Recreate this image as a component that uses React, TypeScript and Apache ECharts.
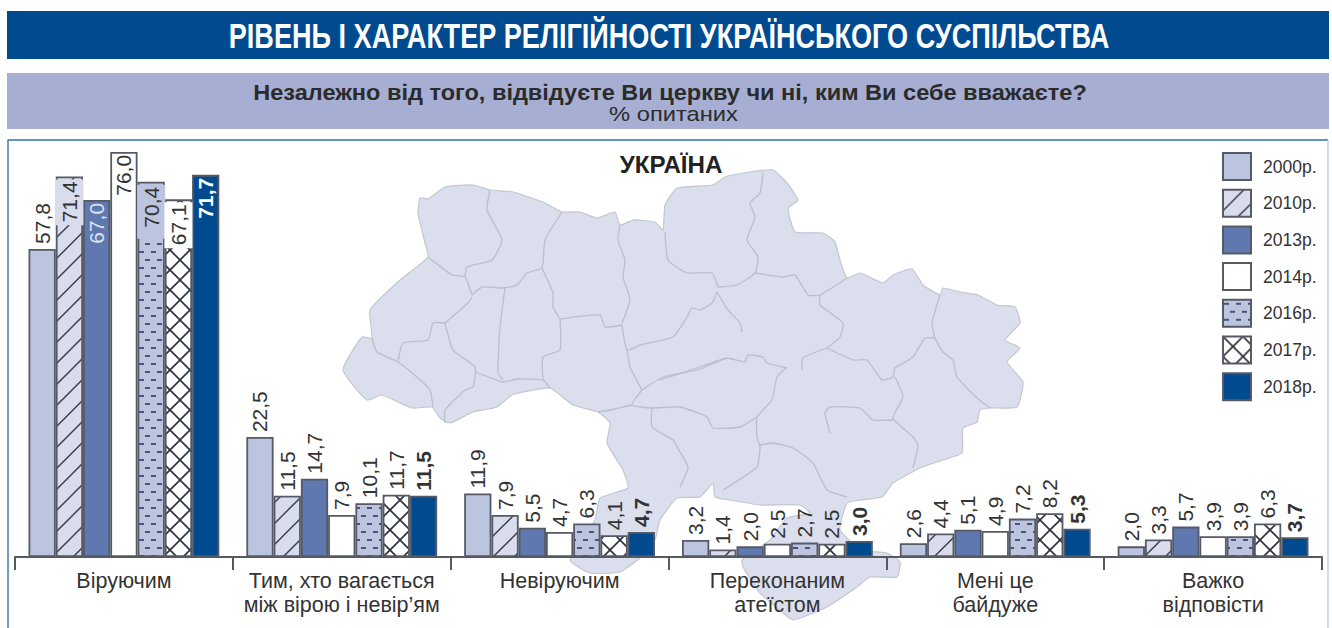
import React, { useEffect, useRef } from "react";
import * as echarts from "echarts";

const categories = ["Віруючим", "Тим, хто вагається\nміж вірою і невір’ям", "Невіруючим", "Переконаним\nатеїстом", "Мені це\nбайдуже", "Важко\nвідповісти"];
const years = ["2000р.", "2010р.", "2013р.", "2014р.", "2016р.", "2017р.", "2018р."];
const v2000 = [57.8, 22.5, 11.9, 3.2, 2.6, 2.0];
const v2010 = [71.4, 11.5, 7.9, 1.4, 4.4, 3.3];
const v2013 = [67.0, 14.7, 5.5, 2.0, 5.1, 5.7];
const v2014 = [76.0, 7.9, 4.7, 2.5, 4.9, 3.9];
const v2016 = [70.4, 10.1, 6.3, 2.7, 7.2, 3.9];
const v2017 = [67.1, 11.7, 4.1, 2.5, 8.2, 6.3];
const v2018 = [71.7, 11.5, 4.7, 3.0, 5.3, 3.7];
const allValues = [v2000, v2010, v2013, v2014, v2016, v2017, v2018];

// Decorative background map of Ukraine (not data)
const mapOutline = [[343,370],[362,337],[372,338],[370,310],[400,280],[428,257],[425,243],[418,213],[420,198],[428,199],[445,187],[473,185],[490,190],[513,192],[543,202],[562,212],[580,212],[597,218],[615,212],[620,225],[633,220],[655,222],[663,230],[665,205],[677,188],[713,185],[725,177],[750,172],[773,170],[787,183],[798,200],[788,208],[795,232],[823,233],[835,242],[840,260],[847,278],[860,273],[883,283],[893,275],[912,269],[923,285],[940,295],[943,288],[960,292],[978,295],[997,305],[1015,307],[1020,323],[1005,340],[1020,348],[1007,362],[1023,382],[1017,407],[990,408],[980,410],[977,422],[963,428],[962,453],[943,460],[920,468],[893,483],[882,497],[860,500],[847,503],[840,530],[862,550],[887,553],[900,562],[897,577],[870,577],[857,587],[827,607],[793,620],[780,610],[760,593],[743,567],[742,560],[770,540],[787,518],[810,513],[800,505],[760,505],[730,500],[715,497],[713,483],[700,497],[677,498],[660,520],[655,540],[640,558],[620,572],[590,573],[570,560],[595,520],[600,498],[628,488],[623,470],[607,443],[610,423],[598,412],[573,405],[550,388],[512,395],[497,407],[473,412],[450,423],[440,418],[432,407],[412,408],[382,395],[367,400]];
const mapBorders = [
  [[490,190],[487,210],[502,240],[492,260],[467,267],[465,277]],
  [[428,257],[452,275],[465,277],[472,295]],
  [[472,295],[482,287],[503,288],[517,285],[527,273],[542,268],[545,240],[562,212]],
  [[620,225],[618,240],[625,260],[623,277],[630,300],[622,323]],
  [[542,268],[553,293],[553,307],[560,319]],
  [[560,319],[600,315],[605,327],[622,325]],
  [[622,325],[627,350],[640,345],[673,337],[687,317],[692,308],[700,310],[712,303],[717,292]],
  [[665,232],[668,260],[687,273],[712,273],[718,287]],
  [[763,172],[760,193],[750,203],[755,217],[747,240],[758,257],[755,273],[737,285],[718,287]],
  [[755,273],[783,277],[795,275],[808,295],[820,295],[847,278]],
  [[820,295],[820,305],[843,323],[840,337],[827,348]],
  [[940,295],[932,323],[935,338],[943,352],[953,360],[957,377],[977,398],[990,408]],
  [[935,338],[925,338],[913,357],[895,368],[893,377],[882,380],[867,360],[853,360],[827,348]],
  [[895,377],[903,397],[893,418],[913,437],[918,445],[913,468]],
  [[893,420],[873,420],[860,408],[830,407],[825,413],[830,433]],
  [[827,348],[803,358],[802,370]],
  [[787,367],[777,377],[772,400],[757,417],[757,437],[760,447],[757,467],[723,490]],
  [[717,292],[728,310],[740,323],[742,332]],
  [[660,380],[697,368],[727,358],[745,362],[748,355],[763,357],[767,363],[787,368]],
  [[627,350],[630,367],[642,390]],
  [[642,390],[663,377],[697,370],[727,358]],
  [[642,390],[632,405],[652,408],[680,407],[707,417],[713,428],[740,427],[757,417]],
  [[632,405],[610,410],[598,412]],
  [[652,408],[652,427],[673,440],[677,447],[688,467],[680,487]],
  [[760,445],[773,443],[793,448],[813,463],[827,490],[847,497]],
  [[372,338],[377,352],[398,362],[418,378],[430,390],[433,407]],
  [[398,362],[403,343],[428,340],[433,323],[445,323]],
  [[472,297],[468,303],[445,323]],
  [[445,323],[453,350],[475,367],[473,387],[465,390],[445,410],[445,423]],
  [[505,288],[500,327],[498,373],[503,380]],
  [[475,372],[503,382],[517,379],[543,380],[550,388]],
  [[560,319],[560,350],[543,357],[543,380]],
];

function tile(w: number, h: number, draw: (c: CanvasRenderingContext2D) => void) {
  const cv = document.createElement("canvas");
  cv.width = w;
  cv.height = h;
  draw(cv.getContext("2d")!);
  return { image: cv, repeat: "repeat" as const };
}
function line(c: CanvasRenderingContext2D, x1: number, y1: number, x2: number, y2: number) {
  c.beginPath();
  c.moveTo(x1, y1);
  c.lineTo(x2, y2);
  c.stroke();
}

export default function App() {
  const ref = useRef<HTMLDivElement>(null);
  useEffect(() => {
    const chart = echarts.init(ref.current!, undefined, { renderer: "svg" });
    const hatch = tile(21, 21, (c) => {
      c.fillStyle = "#d8dcec";
      c.fillRect(0, 0, 21, 21);
      c.strokeStyle = "#3a3f4c";
      c.lineWidth = 1.5;
      line(c, -2, 23, 23, -2);
      line(c, -2, 2, 2, -2);
      line(c, 19, 23, 23, 19);
    });
    const dots = tile(12, 16, (c) => {
      c.fillStyle = "#bcc4de";
      c.fillRect(0, 0, 12, 16);
      c.fillStyle = "#46557f";
      c.fillRect(1, 3, 5, 2);
      c.fillRect(7, 11, 5, 2);
    });
    const cross = tile(20, 20, (c) => {
      c.fillStyle = "#ffffff";
      c.fillRect(0, 0, 20, 20);
      c.strokeStyle = "#2f333d";
      c.lineWidth = 1.7;
      line(c, -2, 22, 22, -2);
      line(c, -2, -2, 22, 22);
      line(c, -2, 2, 2, -2);
      line(c, 18, 22, 22, 18);
      line(c, 18, -2, 22, 2);
      line(c, -2, 18, 2, 22);
    });
    const fills: any[] = ["#bcc5e0", hatch, "#5f78b0", "#ffffff", dots, cross, "#004a8f"];
    const labelBg = ["", "#d8dcec", "", "", "#bcc4de", "#ffffff", ""];
    const labelTail = [0, 3, 0, 0, 11, 3, 0];
    const insideColor = ["", "#333333", "#dbe1f0", "#333333", "#333333", "#333333", "#ffffff"];
    const fmt = (p: any) => Number(p.value).toFixed(1).replace(".", ",");

    const series = years.map((name, s) => ({
      name,
      type: "bar",
      barGap: 0,
      barCategoryGap: "12.4%",
      itemStyle: { color: fills[s], borderColor: "#555a66", borderWidth: 1.8 },
      data: allValues[s].map((value, c) => {
        const inside = c === 0 && s > 0;
        return {
          value,
          label: inside
            ? {
                position: "insideTop",
                distance: 3,
                rotate: 90,
                align: "right",
                verticalAlign: "middle",
                color: insideColor[s],
                ...(labelBg[s] ? { backgroundColor: labelBg[s], padding: [3, 2, 4, labelTail[s]] } : {}),
              }
            : {},
        };
      }),
      label: {
        show: true,
        position: "top",
        distance: 5,
        rotate: 90,
        align: "left",
        verticalAlign: "middle",
        formatter: fmt,
        fontFamily: "Liberation Sans",
        fontSize: 21,
        fontWeight: s === 6 ? "bold" : "normal",
        color: "#333333",
      },
    }));

    const smooth = 0.15;
    chart.setOption({
      animation: false,
      grid: { left: 15, width: 1307, top: 130.6, height: 426.4 },
      legend: {
        orient: "vertical",
        left: 1222,
        top: 152,
        padding: 0,
        icon: "rect",
        itemWidth: 28,
        itemHeight: 27,
        itemGap: 7.7,
        selectedMode: false,
        data: years,
        textStyle: { fontFamily: "Liberation Sans", fontSize: 17.5, color: "#333333", padding: [0, 0, 0, 7] },
      },
      xAxis: {
        type: "category",
        data: categories,
        z: 5,
        axisLine: { lineStyle: { color: "#555a60", width: 2 } },
        axisTick: { show: true, length: 13, lineStyle: { color: "#555a60", width: 2 } },
        axisLabel: {
          interval: 0,
          margin: 12,
          fontFamily: "Liberation Sans",
          fontSize: 21.5,
          lineHeight: 24,
          color: "#333333",
        },
      },
      yAxis: { type: "value", min: 0, max: 80, show: false },
      graphic: {
        elements: [
          { type: "rect", z: 0, shape: { x: 7, y: 11, width: 1322, height: 48 }, style: { fill: "#004a8f" } },
          { type: "rect", z: 0, shape: { x: 7, y: 73, width: 1322, height: 56 }, style: { fill: "#a6afd3" } },
          { type: "line", z: 0, shape: { x1: 7.5, y1: 140, x2: 1328, y2: 140 }, style: { stroke: "#2f70ad", lineWidth: 1.5 } },
          { type: "line", z: 0, shape: { x1: 8, y1: 140, x2: 8, y2: 628 }, style: { stroke: "#3f7ab5", lineWidth: 1.5 } },
          { type: "line", z: 0, shape: { x1: 1328, y1: 140, x2: 1328, y2: 628 }, style: { stroke: "#bcd2e6", lineWidth: 1.5 } },
          { type: "polygon", z: 1, shape: { points: mapOutline, smooth }, style: { fill: "#dadeed", stroke: "#c4c6d0", lineWidth: 1.2 } },
          ...mapBorders.map((b) => ({ type: "polyline", z: 1, shape: { points: b, smooth }, style: { fill: "none", stroke: "#bcbfca", lineWidth: 1.3 } })),
          { type: "text", z: 3, x: 669, y: 36, scaleX: 0.774, style: { text: "РІВЕНЬ І ХАРАКТЕР РЕЛІГІЙНОСТІ УКРАЇНСЬКОГО СУСПІЛЬСТВА", fill: "#ffffff", font: "bold 35px 'Liberation Sans'", align: "center", verticalAlign: "middle" } },
          { type: "text", z: 3, x: 670, y: 92, scaleX: 1.07, style: { text: "Незалежно від того, відвідуєте Ви церкву чи ні, ким Ви себе вважаєте?", fill: "#2b2b2b", font: "bold 22px 'Liberation Sans'", align: "center", verticalAlign: "middle" } },
          { type: "text", z: 3, x: 673.5, y: 114, scaleX: 1.13, style: { text: "% опитаних", fill: "#2b2b2b", font: "21px 'Liberation Sans'", align: "center", verticalAlign: "middle" } },
          { type: "text", z: 3, x: 671, y: 165, scaleX: 1.05, style: { text: "УКРАЇНА", fill: "#222222", font: "bold 23px 'Liberation Sans'", align: "center", verticalAlign: "middle" } },
        ],
      },
      series,
    });
    return () => chart.dispose();
  }, []);
  return <div ref={ref} style={{ position: "absolute", left: 0, top: 0, width: 1332, height: 628, background: "#fff" }} />;
}
